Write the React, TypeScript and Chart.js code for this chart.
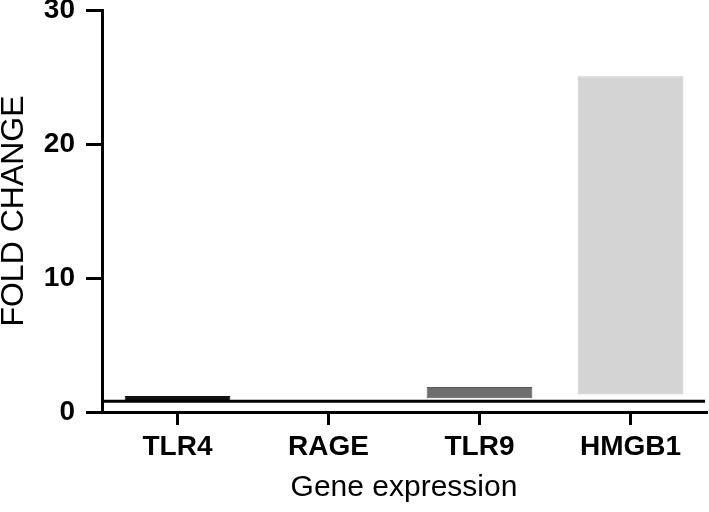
import React, { useEffect, useRef } from "react";
import { Chart, registerables } from "chart.js";

Chart.register(...registerables);

const categories = ["TLR4", "RAGE", "TLR9", "HMGB1"];
const barLow = [0.81, 0.81, 1.02, 1.3];
const barHigh = [1.19, 0.81, 1.87, 25.05];
const barColors = ["#111111", "#111111", "#6e6e6e", "#d4d4d4"];
const barBorders = ["#111111", "#111111", "#5a5a5a", "#c6c6c6"];
const baselineValue = 0.81;
const yTicks = [0, 10, 20, 30];

const FONT = "'Liberation Sans', Arial, Helvetica, sans-serif";

const baselinePlugin = {
  id: "baseline",
  afterDatasetsDraw(chart: any) {
    const { ctx, chartArea, scales } = chart;
    const y = scales.y.getPixelForValue(baselineValue);
    ctx.save();
    ctx.strokeStyle = "#000";
    ctx.lineWidth = 3;
    ctx.beginPath();
    ctx.moveTo(chartArea.left, y);
    ctx.lineTo(chartArea.right - 1, y);
    ctx.stroke();
    ctx.restore();
  },
};

export default function App() {
  const ref = useRef<HTMLCanvasElement | null>(null);
  useEffect(() => {
    if (!ref.current) return;
    const chart = new Chart(ref.current, {
      type: "bar",
      data: {
        labels: categories,
        datasets: [
          {
            data: categories.map((_, i) => [barLow[i], barHigh[i]]) as any,
            backgroundColor: barColors,
            borderColor: barBorders,
            borderWidth: 1,
            borderSkipped: false,
            categoryPercentage: 1,
            barPercentage: 0.7,
          },
        ],
      },
      plugins: [baselinePlugin],
      options: {
        animation: false,
        responsive: true,
        maintainAspectRatio: false,
        layout: { padding: { top: 0, right: 3, left: 0, bottom: 0 } },
        plugins: { legend: { display: false }, tooltip: { enabled: false } },
        scales: {
          x: {
            type: "category",
            afterFit(scale: any) {
              scale.height = 100;
            },
            grid: {
              offset: false,
              drawOnChartArea: false,
              drawTicks: true,
              tickLength: 13,
              lineWidth: 3,
              color: "#000",
            },
            border: { display: true, color: "#000", width: 3 },
            ticks: {
              color: "#000",
              padding: 5,
              font: { family: FONT, size: 28, weight: "bold" },
            },
            title: {
              display: true,
              text: "Gene expression",
              color: "#000",
              padding: { top: 0, bottom: 6 },
              font: { family: FONT, size: 30, weight: "normal" },
            },
          },
          y: {
            min: 0,
            max: 30,
            afterFit(scale: any) {
              scale.width = 102;
              scale.paddingTop = 10;
            },
            afterBuildTicks(scale: any) {
              scale.ticks = yTicks.map((v) => ({ value: v }));
            },
            grid: {
              drawOnChartArea: false,
              drawTicks: true,
              tickLength: 16,
              lineWidth: 3,
              color: "#000",
            },
            border: { display: true, color: "#000", width: 3 },
            ticks: {
              color: "#000",
              padding: 11,
              font: { family: FONT, size: 28, weight: "bold" },
            },
            title: {
              display: true,
              text: "FOLD CHANGE",
              color: "#000",
              padding: 0,
              font: { family: FONT, size: 32, weight: "normal", lineHeight: 0.9 },
            },
          },
        },
      },
    });
    return () => chart.destroy();
  }, []);
  return (
    <div style={{ position: "fixed", left: 0, top: 0, width: 709, height: 512, background: "#fff" }}>
      <canvas ref={ref} />
    </div>
  );
}
